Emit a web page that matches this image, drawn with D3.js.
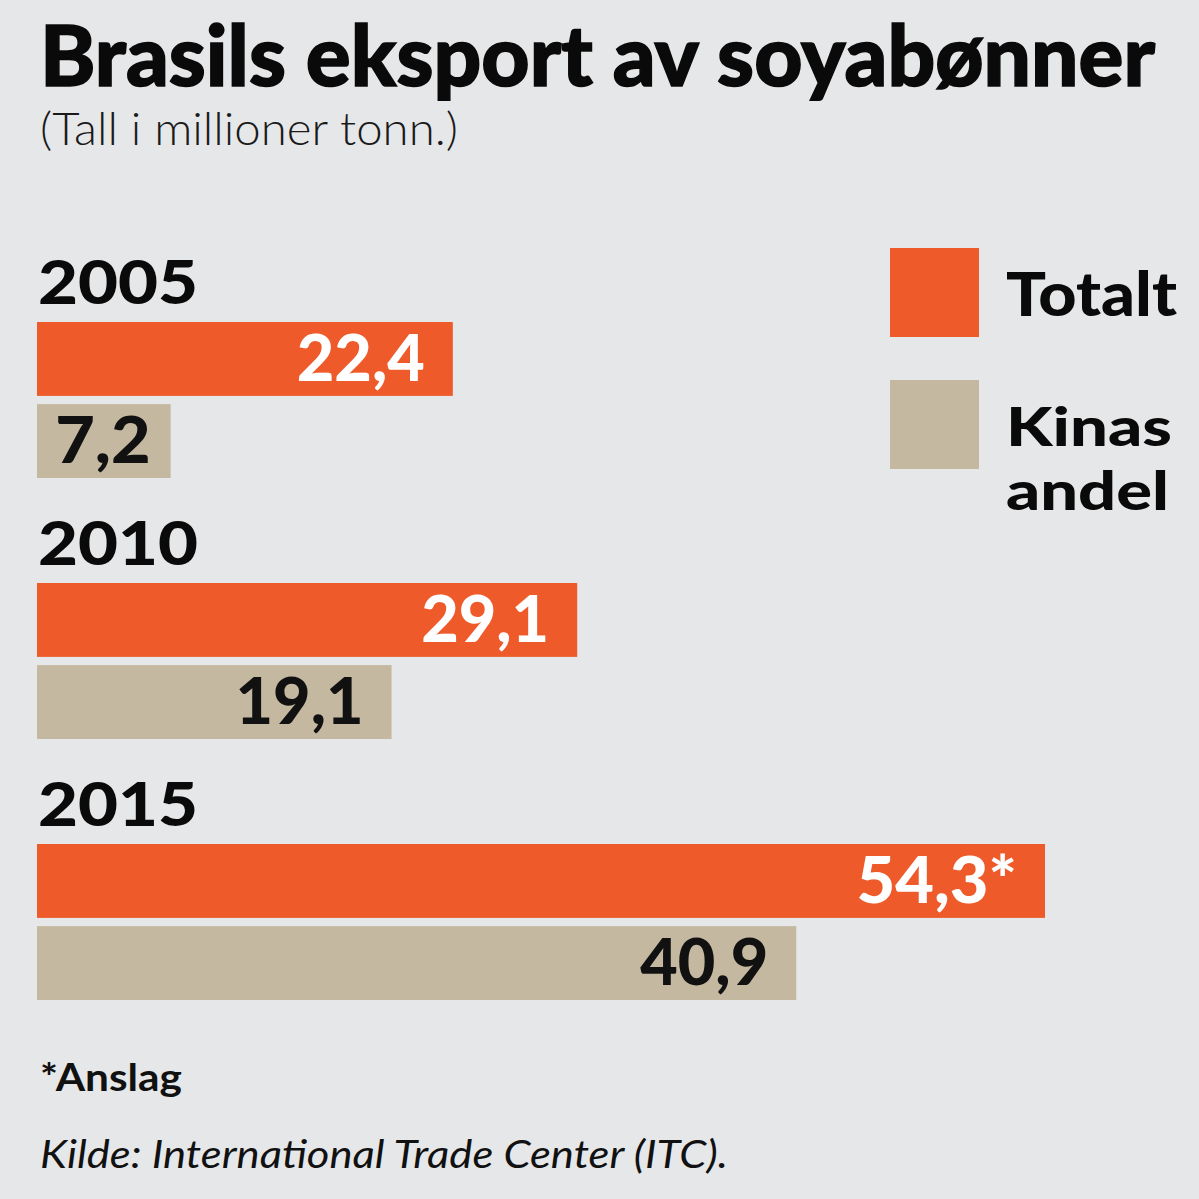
<!DOCTYPE html>
<html><head><meta charset="utf-8">
<script src="https://cdn.jsdelivr.net/npm/d3@7"></script>
<style>html,body{margin:0;padding:0;background:#e6e7e9;}svg{display:block;}</style>
</head><body>
<script>
const years = ["2005", "2010", "2015"];
const seriesNames = ["Totalt", "Kinas andel"];
const totalt = [22.4, 29.1, 54.3];
const kinasAndel = [7.2, 19.1, 40.9];
const totaltLabels = ["22,4", "29,1", "54,3*"];
const kinasLabels = ["7,2", "19,1", "40,9"];
const colors = ["#ef5a2a", "#c5b8a0"];
const labelColors = ["#ffffff", "#111111"];

const W = 1199, H = 1199;
const svg = d3.select("body").append("svg").attr("width", W).attr("height", H);
svg.append("rect").attr("width", W).attr("height", H).attr("fill", "#e6e7e9");

const font = "Lato, 'Open Sans', sans-serif";

svg.append("text").attr("x", 40).attr("y", 86)
  .attr("font-family", font).attr("font-weight", 900).attr("font-size", 84)
  .attr("textLength", 1115).attr("lengthAdjust", "spacingAndGlyphs")
  .attr("fill", "#0a0a0a").attr("stroke", "#0a0a0a").attr("stroke-width", 1.5)
  .text("Brasils eksport av soyabønner");
svg.append("text").attr("x", 40).attr("y", 145)
  .attr("font-family", font).attr("font-weight", 300).attr("font-size", 46)
  .attr("textLength", 418).attr("lengthAdjust", "spacingAndGlyphs")
  .attr("fill", "#1a1a1a").text("(Tall i millioner tonn.)");

const x = d3.scaleLinear().domain([0, 54.3]).range([37, 1045]);
const y0 = d3.scaleBand().domain(years).range([322, 322 + 3 * 261]);
const y1 = d3.scaleBand().domain(seriesNames).range([0, 156]).paddingInner(0.1);

const data = years.map((yr, i) => ({
  year: yr,
  vals: [
    {s: seriesNames[0], v: totalt[i], lab: totaltLabels[i], k: 0},
    {s: seriesNames[1], v: kinasAndel[i], lab: kinasLabels[i], k: 1}
  ]
}));

const g = svg.selectAll("g.year").data(data).join("g")
  .attr("transform", d => `translate(0,${y0(d.year)})`);

g.append("text").attr("x", 38).attr("y", -18)
  .attr("font-family", font).attr("font-weight", 900).attr("font-size", 60)
  .attr("textLength", 160).attr("lengthAdjust", "spacingAndGlyphs")
  .attr("fill", "#0a0a0a").text(d => d.year);

const bars = g.selectAll("g.bar").data(d => d.vals).join("g");
bars.append("rect")
  .attr("x", x(0)).attr("y", d => y1(d.s))
  .attr("width", d => x(d.v) - x(0)).attr("height", y1.bandwidth())
  .attr("fill", d => colors[d.k]);
bars.append("text")
  .attr("x", d => x(d.v) - (d.v < 10 ? 20 : 28))
  .attr("y", d => y1(d.s) + y1.bandwidth() / 2 + 22)
  .attr("text-anchor", "end")
  .attr("font-family", font).attr("font-weight", 900).attr("font-size", 64)
  .attr("fill", d => labelColors[d.k])
  .attr("textLength", d => d.lab.length * 32.5 - 2)
  .attr("lengthAdjust", "spacingAndGlyphs")
  .text(d => d.lab);

// legend
const leg = svg.append("g");
const legY = d3.scaleOrdinal().domain(seriesNames).range([248, 380]);
leg.selectAll("rect").data(seriesNames).join("rect")
  .attr("x", 890).attr("y", d => legY(d)).attr("width", 89).attr("height", 89)
  .attr("fill", (d, i) => colors[i]);
leg.append("text").attr("x", 1006).attr("y", 316)
  .attr("font-family", font).attr("font-weight", 900).attr("font-size", 60)
  .attr("textLength", 171).attr("lengthAdjust", "spacingAndGlyphs")
  .attr("fill", "#0a0a0a").text("Totalt");
leg.append("text").attr("x", 1006).attr("y", 446)
  .attr("font-family", font).attr("font-weight", 900).attr("font-size", 53)
  .attr("textLength", 166).attr("lengthAdjust", "spacingAndGlyphs")
  .attr("fill", "#0a0a0a").text("Kinas");
leg.append("text").attr("x", 1006).attr("y", 510)
  .attr("font-family", font).attr("font-weight", 900).attr("font-size", 53)
  .attr("textLength", 163).attr("lengthAdjust", "spacingAndGlyphs")
  .attr("fill", "#0a0a0a").text("andel");

svg.append("text").attr("x", 40).attr("y", 1091)
  .attr("font-family", font).attr("font-weight", 700).attr("font-size", 38)
  .attr("textLength", 142).attr("lengthAdjust", "spacingAndGlyphs")
  .attr("fill", "#111").text("*Anslag");
svg.append("text").attr("x", 40).attr("y", 1168)
  .attr("font-family", font).attr("font-style", "italic").attr("font-weight", 400).attr("font-size", 38)
  .attr("textLength", 688).attr("lengthAdjust", "spacingAndGlyphs")
  .attr("fill", "#111").text("Kilde: International Trade Center (ITC).");
</script>
</body></html>
